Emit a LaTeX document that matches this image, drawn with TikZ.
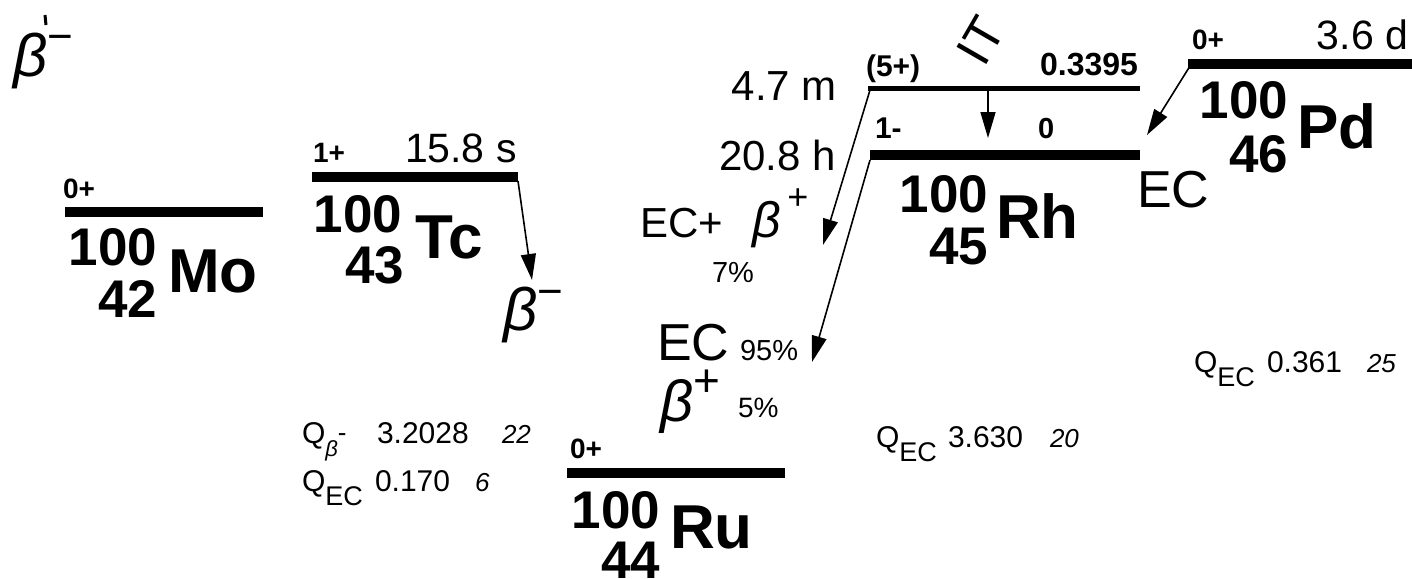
\documentclass[tikz,border=0pt]{standalone}
\usepackage{fontspec}
\setmainfont{Liberation Sans}
\usetikzlibrary{arrows.meta}
\newcommand\fs[1]{\fontsize{#1}{#1}\selectfont}
\begin{document}
\begin{tikzpicture}[x=1pt,y=-1pt,
  lbl/.style={inner sep=0pt,outer sep=0pt},
  lvl/.style={line width=10pt},
  lvlthin/.style={line width=5pt},
  conn/.style={line width=1.6pt,-{Triangle[length=26pt,width=15pt]}},
  mass/.style={lbl,anchor=base east,font=\fs{53}\bfseries},
  elem/.style={lbl,anchor=base west,font=\fs{62}\bfseries},
  spin/.style={lbl,anchor=base west,font=\fs{28}\bfseries},
  half/.style={lbl,font=\fs{41}},
  qtxt/.style={lbl,anchor=base west,font=\fs{30}}]
\useasboundingbox (0,0) rectangle (1412,578);
\fill[white] (0,0) rectangle (1412,578);

% top-left beta
\node[lbl,anchor=base west] (b0) at (13,77) {\fs{60}\itshape β\raisebox{25pt}{\fs{44}\upshape −}};
\draw[line width=3pt] (45,15) -- (46,25);

% Mo
\coordinate (MoL) at (65,212); \coordinate (MoR) at (263,212);
\draw[lvl] (MoL) -- (MoR);
\node[spin] (MoJ) at (63,198) {0+};
\node[mass] (MoA) at (157,265) {100};
\node[mass] (MoZ) at (157,317) {42};
\node[elem] (MoE) at (168,292) {Mo};

% Tc
\coordinate (TcL) at (312,177); \coordinate (TcR) at (518,177);
\draw[lvl] (TcL) -- (TcR);
\node[spin] (TcJ) at (313,162) {1+};
\node[half,anchor=base west] (TcH) at (405,162) {15.8 s};
\node[mass] (TcA) at (402,232) {100};
\node[mass] (TcZ) at (404,283) {43};
\node[elem] (TcE) at (415,258) {Tc};
\coordinate (TcT) at (532,280);
\draw[conn] (518,181) -- (TcT);
\node[lbl,anchor=base west] (TcB) at (503,330) {\fs{60}\itshape β\raisebox{24pt}{\fs{44}\upshape −}};

% Ru
\coordinate (RuL) at (567,473); \coordinate (RuR) at (785,473);
\draw[lvl] (RuL) -- (RuR);
\node[spin] (RuJ) at (570,458) {0+};
\node[mass] (RuA) at (660,528) {100};
\node[mass] (RuZ) at (660,578) {44};
\node[elem] (RuE) at (670,548) {Ru};

% Rh
\coordinate (RhmL) at (868,88); \coordinate (RhmR) at (1140,88);
\draw[lvlthin] (RhmL) -- (RhmR);
\coordinate (RhL) at (870,155); \coordinate (RhR) at (1140,155);
\draw[lvl] (RhL) -- (RhR);
\node[lbl,anchor=base west,font=\fs{30}\bfseries] (RhmJ) at (866,76) {(5+)};
\node[lbl,anchor=base east,font=\fs{32}\bfseries] (RhmE) at (1138,75) {0.3395};
\node[lbl,anchor=base west,font=\fs{30}\bfseries] (RhJ) at (875,138) {1-};
\node[lbl,anchor=base west,font=\fs{29}\bfseries] (RhE) at (1038,138) {0};
\node[lbl,anchor=base east,font=\fs{42}] (RhmH) at (837,100) {4.7 m};
\node[lbl,anchor=base east,font=\fs{42}] (RhH) at (836,170) {20.8 h};
\node[lbl,rotate=60,font=\fs{50}] (IT) at (981,41) {IT};
\coordinate (ITs) at (988,90); \coordinate (ITe) at (988,138);
\draw[conn] (ITs) -- (ITe);
\node[mass] (RhA) at (988,212) {100};
\node[mass] (RhZ) at (988,264) {45};
\node[elem] (RhEl) at (996,238) {Rh};
\coordinate (RhmT) at (823,245);
\draw[conn] (870,90) -- (RhmT);
\coordinate (RhT) at (812,362);
\draw[conn] (870,160) -- (RhT);
\node[lbl,anchor=base west] (ECb1) at (640,237) {\fs{42}EC+\hspace{30pt}{\fs{50}\itshape β}\hspace{6pt}\raisebox{28pt}{\fs{36}+}};
\node[lbl,anchor=base west,font=\fs{29}] (p7) at (712,282) {7\%};
\node[lbl,anchor=base west,font=\fs{52}] (EC2) at (657,360) {EC};
\node[lbl,anchor=base west,font=\fs{29}] (p95) at (740,360) {95\%};
\node[lbl,anchor=base west] (b2) at (660,421) {\fs{58}\itshape β\raisebox{25pt}{\fs{46}\upshape +}};
\node[lbl,anchor=base west,font=\fs{28}] (p5) at (738,417) {5\%};

% Pd
\coordinate (PdL) at (1188,64); \coordinate (PdR) at (1412,64);
\draw[lvl] (PdL) -- (PdR);
\node[spin] (PdJ) at (1192,50) {0+};
\node[half,anchor=base east] (PdH) at (1408,50) {3.6 d};
\node[mass] (PdA) at (1288,118) {100};
\node[mass] (PdZ) at (1288,172) {46};
\node[elem] (PdE) at (1297,148) {Pd};
\coordinate (PdT) at (1147,135);
\draw[conn] (1190,66) -- (PdT);
\node[lbl,anchor=base west,font=\fs{52}] (PdEC) at (1137,207) {EC};

% Q values
\node[qtxt] (Q1) at (302,443) {Q\raisebox{-13pt}{\fs{22}\itshape β}\raisebox{2pt}{\fs{26}-}};
\node[qtxt] (Q1v) at (377,443) {3.2028};
\node[qtxt,font=\fs{26}\itshape] (Q1e) at (502,443) {22};
\node[qtxt] (Q2) at (302,491) {Q\raisebox{-14pt}{\fs{27}EC}};
\node[qtxt] (Q2v) at (375,491) {0.170};
\node[qtxt,font=\fs{26}\itshape] (Q2e) at (475,491) {6};
\node[qtxt] (Q3) at (876,447) {Q\raisebox{-14pt}{\fs{27}EC}};
\node[qtxt] (Q3v) at (948,447) {3.630};
\node[qtxt,font=\fs{26}\itshape] (Q3e) at (1050,447) {20};
\node[qtxt] (Q4) at (1194,372) {Q\raisebox{-14pt}{\fs{27}EC}};
\node[qtxt] (Q4v) at (1267,372) {0.361};
\node[qtxt,font=\fs{26}\itshape] (Q4e) at (1367,372) {25};
\end{tikzpicture}
\end{document}
